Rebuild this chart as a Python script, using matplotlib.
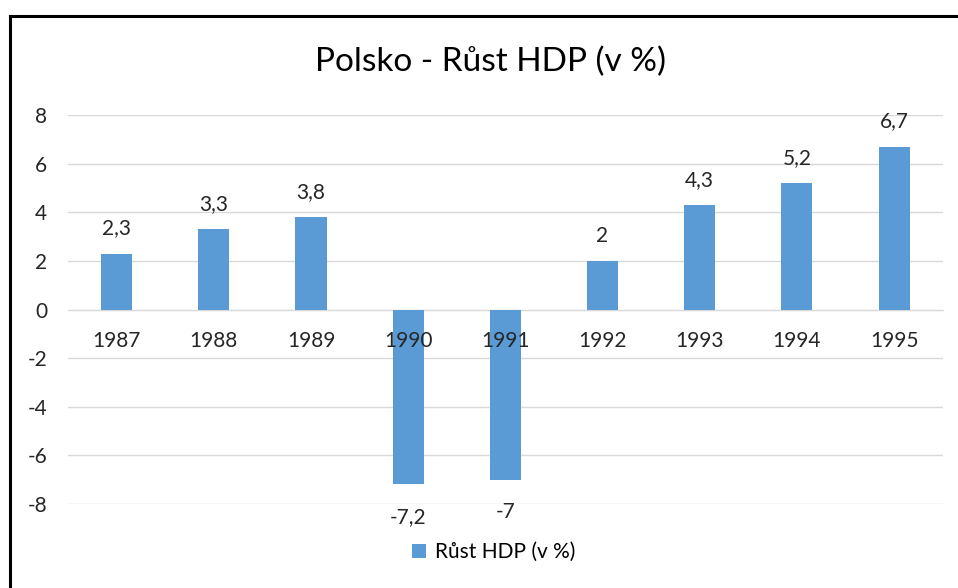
import matplotlib.pyplot as plt
from matplotlib.lines import Line2D

plt.rcParams['font.family'] = ['Lato', 'DejaVu Sans']
plt.rcParams['axes.unicode_minus'] = False

# data
years = ['1987', '1988', '1989', '1990', '1991', '1992', '1993', '1994', '1995']
growth = [2.3, 3.3, 3.8, -7.2, -7.0, 2.0, 4.3, 5.2, 6.7]
series_name = 'Růst HDP (v %)'
title = 'Polsko - Růst HDP (v %)'

bar_color = '#5B9BD5'
grid_color = '#d9d9d9'
text_color = '#262626'

fig = plt.figure(figsize=(9.58, 5.88), dpi=100)
ax = fig.add_axes([0.071, 0.143, 0.913, 0.661])

x = list(range(len(years)))
bars = ax.bar(x, growth, width=0.32, color=bar_color, zorder=2, label=series_name)

ax.set_xlim(-0.5, len(years) - 0.5)
ax.set_ylim(-8, 8)
ax.set_yticks(range(-8, 9, 2))
ax.grid(axis='y', color=grid_color, linewidth=1, zorder=0)

for s in ['top', 'right', 'left']:
    ax.spines[s].set_visible(False)
ax.spines['bottom'].set_position(('data', 0))
ax.spines['bottom'].set_color(grid_color)
ax.spines['bottom'].set_zorder(1)

# category labels drawn as text so they sit on top of the bars
ax.set_xticks([])
for xi, yr in zip(x, years):
    ax.annotate(yr, (xi, 0), xytext=(0, -22.5), textcoords='offset points',
                ha='center', va='center', fontsize=15, color=text_color, zorder=5)
ax.tick_params(axis='y', length=0, pad=15, labelsize=15, labelcolor=text_color)

# value labels with decimal comma
for xi, v in zip(x, growth):
    txt = f'{v:g}'.replace('.', ',')
    if v >= 0:
        ax.annotate(txt, (xi, v), xytext=(0, 11), textcoords='offset points',
                    ha='center', va='bottom', fontsize=15, color=text_color)
    else:
        ax.annotate(txt, (xi, v), xytext=(0, -16), textcoords='offset points',
                    ha='center', va='top', fontsize=15, color=text_color)

fig.text(0.512, 0.894, title, ha='center', va='center', fontsize=24, color='black')

fig.legend(handles=[bars], labels=[series_name], loc='center', bbox_to_anchor=(0.515, 0.061),
           frameon=False, fontsize=15, handlelength=0.7, handleheight=0.7, handletextpad=0.4)

# chart border (left and top visible)
fig.add_artist(Line2D([9.5 / 958, 9.5 / 958], [0, 1 - 15.5 / 588], color='black', linewidth=2.2,
                      transform=fig.transFigure))
fig.add_artist(Line2D([9.5 / 958, 1], [1 - 15.5 / 588, 1 - 15.5 / 588], color='black', linewidth=2.2,
                      transform=fig.transFigure))

fig.savefig('out.png', dpi=100)
